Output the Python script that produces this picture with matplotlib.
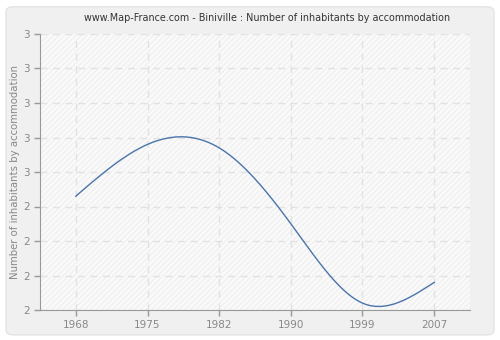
import numpy as np
import matplotlib
matplotlib.use("Agg")
import matplotlib.pyplot as plt
from matplotlib.patches import FancyBboxPatch, Rectangle

years = ["1968", "1975", "1982", "1990", "1999", "2007"]
values = [2.33, 2.48, 2.47, 2.25, 2.02, 2.08]
ytick_vals = [2.0, 2.1, 2.2, 2.3, 2.4, 2.5, 2.6, 2.7, 2.8]
ytick_labels = ["2", "2", "2", "2", "3", "3", "3", "3", "3"]


def natural_spline(x, y, xs):
    # natural cubic spline through the points
    x = np.asarray(x, float)
    y = np.asarray(y, float)
    n = len(x)
    h = np.diff(x)
    A = np.zeros((n, n))
    b = np.zeros(n)
    A[0, 0] = A[-1, -1] = 1
    for i in range(1, n - 1):
        A[i, i - 1] = h[i - 1]
        A[i, i] = 2 * (h[i - 1] + h[i])
        A[i, i + 1] = h[i]
        b[i] = 3 * ((y[i + 1] - y[i]) / h[i] - (y[i] - y[i - 1]) / h[i - 1])
    c = np.linalg.solve(A, b)
    out = np.empty_like(xs)
    for k, t in enumerate(xs):
        i = min(max(np.searchsorted(x, t) - 1, 0), n - 2)
        d = t - x[i]
        bi = (y[i + 1] - y[i]) / h[i] - h[i] * (2 * c[i] + c[i + 1]) / 3
        di = (c[i + 1] - c[i]) / (3 * h[i])
        out[k] = y[i] + bi * d + c[i] * d ** 2 + di * d ** 3
    return out


fig = plt.figure(figsize=(5, 3.4), dpi=100)
fig.patch.set_facecolor("white")
fig.patches.append(FancyBboxPatch((0.012, 0.015), 0.976, 0.965, boxstyle="round,pad=0,rounding_size=0.015",
                                  transform=fig.transFigure, facecolor="#f0f0f0", edgecolor="#e4e4e4",
                                  linewidth=1, zorder=-10))

ax = fig.add_axes([40 / 500, 1 - 310 / 340, 430 / 500, 276 / 340])
ax.set_facecolor("#fafafa")
ax.add_patch(Rectangle((0, 0), 1, 1, transform=ax.transAxes, facecolor="none",
                       edgecolor="#f0f0f0", hatch="//////", linewidth=0, zorder=0))

xi = np.arange(len(years))
xs = np.linspace(0, len(years) - 1, 300)
ax.plot(xs, natural_spline(xi, values, xs), color="#4a74aa", linewidth=1, zorder=3)

ax.set_xlim(-0.5, len(years) - 0.5)
ax.set_ylim(2.0, 2.8)
ax.set_xticks(xi)
ax.set_xticklabels(years)
ax.set_yticks(ytick_vals)
ax.set_yticklabels(ytick_labels)
ax.grid(True, color="#e2e2e2", linestyle=(0, (5, 4)), linewidth=1)
ax.set_axisbelow(True)

for s in ["top", "right"]:
    ax.spines[s].set_visible(False)
for s in ["left", "bottom"]:
    ax.spines[s].set_color("#999999")
ax.tick_params(colors="#999999", labelcolor="#888888", labelsize=7.5, length=4, width=1)

ax.set_ylabel("Number of inhabitants by accommodation", color="#888888", fontsize=7.3, labelpad=2)
fig.text(267 / 500, 1 - 18 / 340, "www.Map-France.com - Biniville : Number of inhabitants by accommodation",
         ha="center", va="center", fontsize=6.9, color="#333333")

fig.savefig("out.png", dpi=100, facecolor=fig.get_facecolor())
